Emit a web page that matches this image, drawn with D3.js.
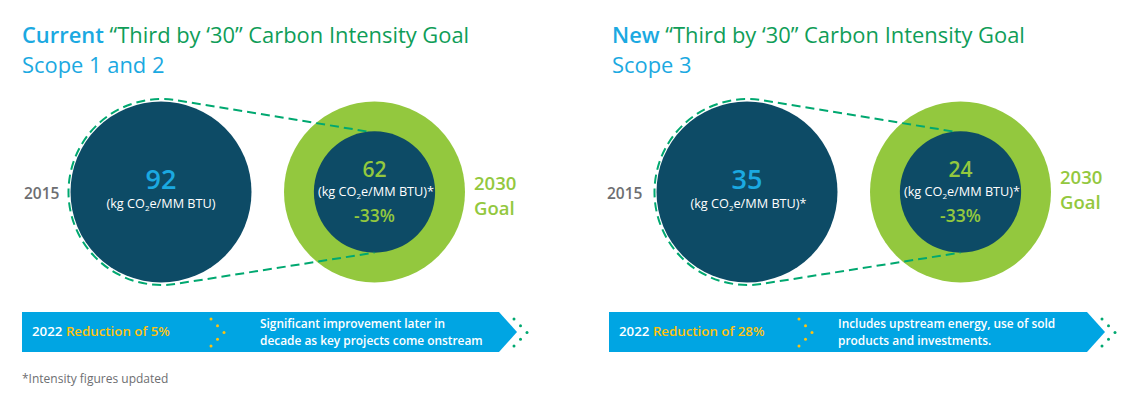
<!DOCTYPE html>
<html><head><meta charset="utf-8">
<script src="https://cdn.jsdelivr.net/npm/d3@7/dist/d3.min.js"></script>
<style>html,body{margin:0;padding:0;background:#fff}svg{display:block}text{font-family:"Open Sans",sans-serif}</style>
</head><body><svg id="c" width="1128" height="404"></svg>
<script>
const titleLead=["Current","New"];
const titleRest=["“Third by ‘30” Carbon Intensity Goal","“Third by ‘30” Carbon Intensity Goal"];
const subtitles=["Scope 1 and 2","Scope 3"];
const baseValues=[92,35];
const goalValues=[62,24];
const reductionPct=[33,33];
const achievedPct=[5,28];
const baseYear=["2015","2015"];
const goalLabel=[["2030","Goal"],["2030","Goal"]];
const baseStar=["","*"];
const notes=[["Significant improvement later in","decade as key projects come onstream"],["Includes upstream energy, use of sold","products and investments."]];
const footnote="*Intensity figures updated";

const C={blue:"#1ba9e1",band:"#00a5e3",green:"#0f9d58",dash:"#00a870",lime:"#93c83e",navy:"#0d4b66",grey:"#6d6e71",yellow:"#ffc20e"};
const svg=d3.select("#c");
const r=d3.scaleLinear().domain([0,100]).range([0,90.5]);
const cy=192;
const dotY=d3.scaleLinear().domain([0,4]).range([319,346]);
const dotX=[0,6.5,13,6.5,0];

const L=[{x:22,big:161,ring:374.5,goalX:474,goalY:[190,215],bandEnd:499,mid:211,notes:260,green:514,yearX:24},
         {x:612,big:747,ring:960.5,goalX:1060,goalY:[184,209],bandEnd:1087,mid:799,notes:838,green:1102,yearX:607}];

baseValues.forEach((v,i)=>{
  const l=L[i], g=svg.append("g");
  const t=g.append("text").attr("x",l.x).attr("y",43).attr("font-size",21.9);
  t.append("tspan").attr("fill",C.blue).attr("font-weight",600).text(titleLead[i]);
  t.append("tspan").attr("fill",C.green).text(" "+titleRest[i]);
  g.append("text").attr("x",l.x).attr("y",73).attr("font-size",21.9).attr("fill",C.blue).text(subtitles[i]);
  const R=r(100), ri=r(100-reductionPct[i]);
  g.append("circle").attr("cx",l.big).attr("cy",cy).attr("r",R).attr("fill",C.navy);
  g.append("circle").attr("cx",l.ring).attr("cy",cy).attr("r",R).attr("fill",C.lime);
  g.append("circle").attr("cx",l.ring).attr("cy",cy).attr("r",ri).attr("fill",C.navy);
  const Ra=R+2.5, a=0.16, cx=l.big+0.5;
  const p=d3.path();
  p.moveTo(l.ring-8,cy-ri);
  p.lineTo(cx+Ra*Math.sin(a),cy-Ra*Math.cos(a));
  p.arc(cx,cy,Ra,-Math.PI/2+a,Math.PI/2-a,true);
  p.lineTo(l.ring,cy+ri);
  g.append("path").attr("d",p.toString()).attr("fill","none").attr("stroke",C.dash).attr("stroke-width",2).attr("stroke-dasharray","9 5");
  g.append("text").attr("x",l.big).attr("y",189).attr("text-anchor","middle").attr("font-size",27).attr("font-weight",600).attr("fill",C.blue).text(v);
  unit(g,l.big+(baseStar[i]?1.5:0),208,baseStar[i]);
  g.append("text").attr("x",l.ring).attr("y",177).attr("text-anchor","middle").attr("font-size",21).attr("font-weight",600).attr("fill",C.lime).text(goalValues[i]);
  unit(g,l.ring+1.5,196,"*");
  g.append("text").attr("x",l.ring).attr("y",222).attr("text-anchor","middle").attr("font-size",17.5).attr("font-weight",600).attr("fill",C.lime).text("-"+reductionPct[i]+"%");
  g.append("text").attr("x",l.yearX).attr("y",199).attr("font-size",15.5).attr("font-weight",600).attr("fill",C.grey).text(baseYear[i]);
  goalLabel[i].forEach((s,k)=>g.append("text").attr("x",l.goalX).attr("y",l.goalY[k]).attr("font-size",18.5).attr("font-weight",600).attr("fill",C.lime).text(s));
  const xs=l.x-(i?3:0);
  g.append("path").attr("d",d3.line()([[xs,312],[l.bandEnd,312],[l.bandEnd+18,332],[l.bandEnd,352],[xs,352]])+"Z").attr("fill",C.band);
  const b=g.append("text").attr("x",xs+10).attr("y",336).attr("font-size",13.3).attr("font-weight",600);
  b.append("tspan").attr("fill","#fff").text("2022 ");
  b.append("tspan").attr("fill",C.yellow).text("Reduction of "+achievedPct[i]+"%");
  notes[i].forEach((s,k)=>g.append("text").attr("x",l.notes).attr("y",328+k*17).attr("font-size",11.9).attr("font-weight",600).attr("fill","#fff").text(s));
  dotX.forEach((d,k)=>{
    g.append("circle").attr("cx",l.mid+d).attr("cy",dotY(k)).attr("r",1.5).attr("fill",C.yellow);
    g.append("circle").attr("cx",l.green+d).attr("cy",dotY(k)).attr("r",1.5).attr("fill",C.dash);
  });
});
function unit(g,x,y,star){
  const t=g.append("text").attr("x",x).attr("y",y).attr("text-anchor","middle").attr("font-size",12.7).attr("fill","#fff");
  t.append("tspan").text("(kg CO");
  t.append("tspan").attr("font-size",8).attr("dy",3).text("2");
  t.append("tspan").attr("dy",-3).text("e/MM BTU)"+star);
}
svg.append("text").attr("x",22).attr("y",383).attr("font-size",12).attr("fill",C.grey).text(footnote);
</script></body></html>
